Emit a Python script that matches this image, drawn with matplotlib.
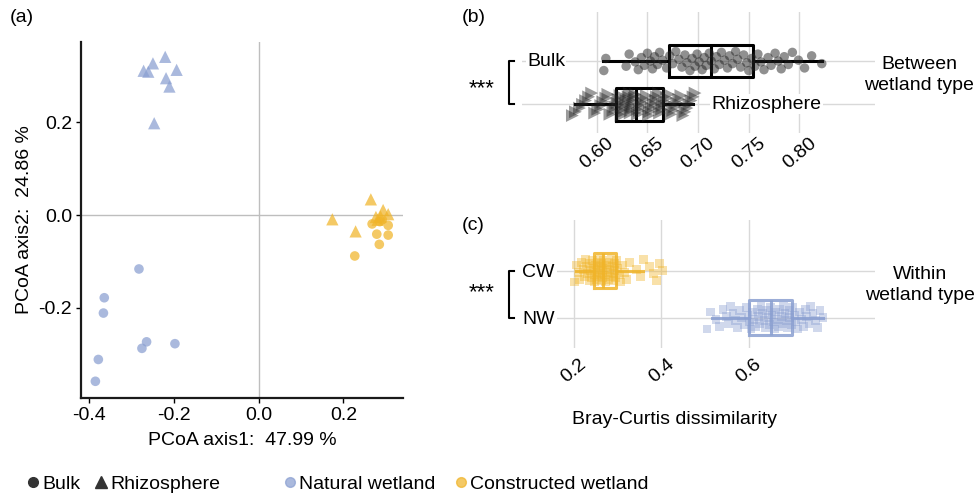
import numpy as np
import matplotlib
matplotlib.use('Agg')
import matplotlib.pyplot as plt
import matplotlib.transforms as mtransforms
from matplotlib.lines import Line2D

plt.rcParams['font.family'] = ['Liberation Sans', 'DejaVu Sans']
plt.rcParams['font.size'] = 14

# ---- (a) PCoA scores ----
nw_bulk_x = [-0.283, -0.365, -0.367, -0.265, -0.276, -0.198, -0.379, -0.386]
nw_bulk_y = [-0.116, -0.178, -0.211, -0.273, -0.287, -0.277, -0.311, -0.358]
nw_rhizo_x = [-0.221, -0.250, -0.272, -0.261, -0.194, -0.219, -0.211, -0.247]
nw_rhizo_y = [0.341, 0.327, 0.311, 0.309, 0.313, 0.295, 0.277, 0.198]
cw_bulk_x = [0.268, 0.306, 0.279, 0.306, 0.285, 0.227, 0.286, 0.292]
cw_bulk_y = [-0.019, -0.022, -0.041, -0.043, -0.063, -0.088, -0.014, -0.010]
cw_rhizo_x = [0.265, 0.174, 0.229, 0.277, 0.294, 0.306, 0.281, 0.288]
cw_rhizo_y = [0.034, -0.009, -0.035, -0.004, 0.011, 0.002, -0.010, -0.003]

# ---- (b) between wetland type dissimilarity ----
bulk_vals = [0.607, 0.609, 0.629, 0.632, 0.638, 0.641, 0.644, 0.647, 0.650, 0.653,
             0.655, 0.657, 0.660, 0.662, 0.665, 0.669, 0.672, 0.675, 0.678, 0.681,
             0.684, 0.687, 0.689, 0.692, 0.694, 0.697, 0.699, 0.701, 0.704, 0.706,
             0.708, 0.711, 0.713, 0.716, 0.718, 0.721, 0.723, 0.726, 0.729, 0.731,
             0.734, 0.737, 0.739, 0.742, 0.745, 0.748, 0.750, 0.753, 0.756, 0.759,
             0.762, 0.765, 0.769, 0.772, 0.776, 0.779, 0.782, 0.785, 0.789, 0.793,
             0.799, 0.805, 0.812, 0.822]
rhizo_vals = [0.576, 0.579, 0.583, 0.586, 0.589, 0.592, 0.595, 0.598, 0.601, 0.604,
              0.606, 0.609, 0.611, 0.613, 0.616, 0.618, 0.620, 0.621, 0.623, 0.624,
              0.626, 0.627, 0.628, 0.629, 0.631, 0.632, 0.633, 0.634, 0.635, 0.636,
              0.637, 0.638, 0.640, 0.642, 0.644, 0.645, 0.647, 0.649, 0.651, 0.652,
              0.654, 0.656, 0.658, 0.659, 0.661, 0.662, 0.664, 0.665, 0.667, 0.669,
              0.671, 0.673, 0.675, 0.677, 0.679, 0.681, 0.683, 0.685, 0.687, 0.689,
              0.691, 0.693, 0.695, 0.697]
# box summaries: whislo, q1, med, q3, whishi
bulk_box = [0.6065, 0.6713, 0.7124, 0.7544, 0.822]
rhizo_box = [0.5786, 0.6187, 0.6385, 0.6657, 0.6953]

# ---- (c) within wetland type dissimilarity ----
cw_vals = [0.201, 0.205, 0.209, 0.213, 0.217, 0.220, 0.223, 0.226, 0.229, 0.231,
           0.234, 0.236, 0.238, 0.240, 0.242, 0.244, 0.246, 0.247, 0.249, 0.250,
           0.252, 0.253, 0.255, 0.256, 0.258, 0.259, 0.260, 0.262, 0.263, 0.264,
           0.265, 0.266, 0.268, 0.270, 0.272, 0.274, 0.276, 0.278, 0.279, 0.281,
           0.283, 0.285, 0.287, 0.289, 0.290, 0.292, 0.293, 0.294, 0.297, 0.300,
           0.303, 0.307, 0.311, 0.315, 0.320, 0.326, 0.343, 0.352, 0.358, 0.372,
           0.381, 0.388, 0.395, 0.402]
nw_vals = [0.504, 0.512, 0.525, 0.533, 0.541, 0.548, 0.553, 0.558, 0.564, 0.569,
           0.574, 0.579, 0.584, 0.589, 0.594, 0.598, 0.602, 0.605, 0.609, 0.612,
           0.615, 0.619, 0.622, 0.625, 0.628, 0.632, 0.635, 0.638, 0.641, 0.644,
           0.647, 0.650, 0.653, 0.656, 0.659, 0.662, 0.665, 0.668, 0.671, 0.674,
           0.677, 0.680, 0.683, 0.686, 0.689, 0.692, 0.694, 0.697, 0.700, 0.704,
           0.708, 0.712, 0.716, 0.720, 0.725, 0.729, 0.733, 0.738, 0.742, 0.747,
           0.752, 0.757, 0.763, 0.770]
cw_box = [0.205, 0.245, 0.267, 0.295, 0.358]
nw_box = [0.515, 0.600, 0.651, 0.698, 0.771]

BLUE = '#8A9FD1'
YELLOW = '#F0B429'
GRID = '#D9D9D9'

W, H = 975, 495
fig = plt.figure(figsize=(W / 100, H / 100), dpi=100)


def px_axes(l, t, r, b):
    return fig.add_axes([l / W, 1 - b / H, (r - l) / W, (b - t) / H])


def box_stats(b):
    return dict(whislo=b[0], q1=b[1], med=b[2], q3=b[3], whishi=b[4], fliers=[])


def jitter(n, amp, k=37, m=23):
    # deterministic spread for the jittered points
    return np.array([((i * k) % m) / (m - 1) - 0.5 for i in range(n)]) * 2 * amp


# ================= (a) =================
axA = px_axes(81, 42, 403, 398)
axA.axhline(0, color='#BEBEBE', lw=1, zorder=0)
axA.axvline(0, color='#BEBEBE', lw=1, zorder=0)
axA.scatter(nw_bulk_x, nw_bulk_y, marker='o', s=48, color=BLUE, alpha=0.72, edgecolors='none')
axA.scatter(nw_rhizo_x, nw_rhizo_y, marker='^', s=78, color=BLUE, alpha=0.72, edgecolors='none')
axA.scatter(cw_bulk_x, cw_bulk_y, marker='o', s=48, color=YELLOW, alpha=0.72, edgecolors='none')
axA.scatter(cw_rhizo_x, cw_rhizo_y, marker='^', s=78, color=YELLOW, alpha=0.72, edgecolors='none')
axA.set_xlim(-0.42, 0.341)
axA.set_ylim(-0.394, 0.373)
axA.set_xticks([-0.4, -0.2, 0.0, 0.2])
axA.set_yticks([-0.2, 0.0, 0.2])
axA.xaxis.set_major_formatter(plt.FormatStrFormatter('%.1f'))
axA.yaxis.set_major_formatter(plt.FormatStrFormatter('%.1f'))
for s in ['top', 'right']:
    axA.spines[s].set_visible(False)
for s in ['left', 'bottom']:
    axA.spines[s].set_linewidth(1.6)
    axA.spines[s].set_color('#1a1a1a')
axA.tick_params(direction='out', length=3.5, width=1, pad=3, labelsize=14)
axA.set_xlabel('PCoA axis1:  47.99 %', fontsize=14, labelpad=6)
axA.set_ylabel('PCoA axis2:  24.86 %', fontsize=14, labelpad=4)

# ================= (b) =================
axB = px_axes(521.7, 11.7, 875, 133)
kw = dict(color='black', lw=2.2)
axB.bxp([box_stats(rhizo_box), box_stats(bulk_box)], positions=[1, 2], widths=0.75,
        vert=False, showcaps=False, showfliers=False, manage_ticks=False,
        boxprops=kw, whiskerprops=kw, medianprops=kw)
axB.scatter(bulk_vals, 2 + jitter(len(bulk_vals), 0.22), marker='o', s=46,
            color='#222222', alpha=0.5, edgecolors='none', zorder=3)
axB.scatter(rhizo_vals, 1 + jitter(len(rhizo_vals), 0.26, k=41, m=19), marker='>', s=85,
            color='#222222', alpha=0.45, edgecolors='none', zorder=3)
axB.set_xlim(0.526, 0.8745)
axB.set_ylim(0.337, 3.14)
axB.set_xticks([0.60, 0.65, 0.70, 0.75, 0.80])
axB.xaxis.set_major_formatter(plt.FormatStrFormatter('%.2f'))
axB.set_yticks([1, 2])
axB.set_yticklabels([])
axB.grid(True, color=GRID, lw=1)
axB.set_axisbelow(True)
for s in axB.spines.values():
    s.set_visible(False)
axB.tick_params(length=0, labelsize=14, pad=1)
lbl_bg = dict(fc='white', ec='none', pad=1)
axB.text(0.5312, 2, 'Bulk', ha='left', va='center', bbox=lbl_bg, zorder=2)
axB.text(0.7134, 1, 'Rhizosphere', ha='left', va='center', bbox=lbl_bg, zorder=2)
trB = mtransforms.blended_transform_factory(axB.transAxes, axB.transData)
axB.plot([-0.0218, -0.036, -0.036, -0.0218], [2, 2, 1, 1], transform=trB,
         color='black', lw=1.5, clip_on=False)
axB.text(-0.113, 1.24, '***', transform=trB, ha='center', va='baseline', fontsize=16)

# ================= (c) =================
axC = px_axes(556.7, 220, 875, 348.3)
for vals, box, pos, col in [(nw_vals, nw_box, 1, BLUE), (cw_vals, cw_box, 2, YELLOW)]:
    kw = dict(color=col, lw=2.2, alpha=0.85)
    axC.bxp([box_stats(box)], positions=[pos], widths=0.75, vert=False,
            showcaps=False, showfliers=False, manage_ticks=False,
            boxprops=kw, whiskerprops=kw, medianprops=kw)
    axC.scatter(vals, pos + jitter(len(vals), 0.24, k=29, m=17), marker='s', s=40,
                color=col, alpha=0.4, edgecolors='none', zorder=3)
axC.set_xlim(0.16, 0.889)
axC.set_ylim(0.349, 3.08)
axC.set_xticks([0.2, 0.4, 0.6])
axC.xaxis.set_major_formatter(plt.FormatStrFormatter('%.1f'))
axC.set_yticks([1, 2])
axC.set_yticklabels(['NW', 'CW'])
axC.grid(True, color=GRID, lw=1)
axC.set_axisbelow(True)
for s in axC.spines.values():
    s.set_visible(False)
axC.tick_params(axis='x', length=0, labelsize=14, pad=5)
axC.tick_params(axis='y', length=0, labelsize=14, pad=1.5)
trC = mtransforms.blended_transform_factory(axC.transAxes, axC.transData)
axC.plot([-0.134, -0.15, -0.15, -0.134], [2, 2, 1, 1], transform=trC,
         color='black', lw=1.5, clip_on=False)
axC.text((481.7 - 556.7) / 318.3, 1.42, '***', transform=trC, ha='center', va='baseline',
         fontsize=16)

for ax in [axB, axC]:
    plt.setp(ax.get_xticklabels(), rotation=40, ha='center')

# ---- free text ----
fig.text(10 / W, 1 - 18 / H, '(a)', ha='left', va='center')
fig.text(462 / W, 1 - 18 / H, '(b)', ha='left', va='center')
fig.text(462 / W, 1 - 226 / H, '(c)', ha='left', va='center')
fig.text(919 / W, 1 - 75 / H, 'Between\nwetland type', ha='center', va='center', linespacing=1.3)
fig.text(920 / W, 1 - 285 / H, 'Within\nwetland type', ha='center', va='center', linespacing=1.3)
fig.text(675 / W, 1 - 420 / H, 'Bray-Curtis dissimilarity', ha='center', va='center')

# ---- legends ----
shape_h = [Line2D([], [], marker='o', ls='none', color='#333333', ms=7),
           Line2D([], [], marker='^', ls='none', color='#333333', ms=8)]
fig.legend(shape_h, ['Bulk', 'Rhizosphere'], loc='center left',
           bbox_to_anchor=(27.2 / W, 1 - 484 / H), ncol=2, frameon=False,
           handlelength=0.6, handletextpad=0.16, columnspacing=0.78,
           borderpad=0, borderaxespad=0, fontsize=14)
col_h = [Line2D([], [], marker='o', ls='none', color=BLUE, alpha=0.72, ms=7),
         Line2D([], [], marker='o', ls='none', color=YELLOW, alpha=0.72, ms=7)]
fig.legend(col_h, ['Natural wetland', 'Constructed wetland'], loc='center left',
           bbox_to_anchor=(284.2 / W, 1 - 484 / H), ncol=2, frameon=False,
           handlelength=0.6, handletextpad=0.16, columnspacing=1.0,
           borderpad=0, borderaxespad=0, fontsize=14)

fig.savefig('out.png', dpi=100)
